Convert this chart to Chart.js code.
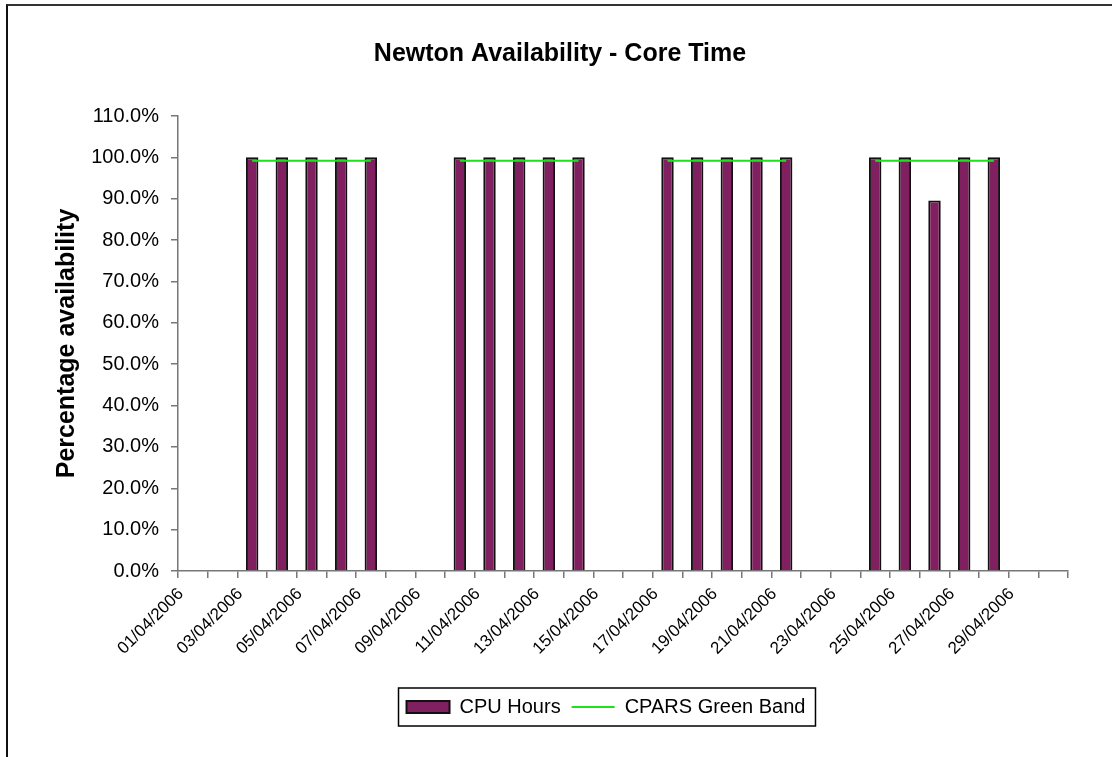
<!DOCTYPE html>
<html>
<head>
<meta charset="utf-8">
<title>Newton Availability - Core Time</title>
<script src="https://cdn.jsdelivr.net/npm/chart.js@4/dist/chart.umd.min.js"></script>
<style>
    body { margin: 0; background: #fff; overflow: hidden; }
    #frame { position: absolute; left: 6px; top: 4px; width: 1200px; height: 900px;
             border-top: 2px solid #333; border-left: 2px solid #111; }
    #availChart { position: absolute; left: 0; top: 0; }
</style>
</head>
<body>
<div id="frame"></div>
<canvas id="availChart" width="1112" height="757"></canvas>
<script>
// Days of April 2006 (categories)
const days = [
    "01/04/2006", "02/04/2006", "03/04/2006", "04/04/2006", "05/04/2006",
    "06/04/2006", "07/04/2006", "08/04/2006", "09/04/2006", "10/04/2006",
    "11/04/2006", "12/04/2006", "13/04/2006", "14/04/2006", "15/04/2006",
    "16/04/2006", "17/04/2006", "18/04/2006", "19/04/2006", "20/04/2006",
    "21/04/2006", "22/04/2006", "23/04/2006", "24/04/2006", "25/04/2006",
    "26/04/2006", "27/04/2006", "28/04/2006", "29/04/2006", "30/04/2006"
];
// CPU Hours availability (%), weekdays only
const cpuHours = [
    null, null, 100, 100, 100, 100, 100, null, null, 100,
    100, 100, 100, 100, null, null, 100, 100, 100, 100,
    100, null, null, 100, 100, 89.6, 100, 100, null, null
];
// CPARS Green Band (%)
const greenBand = [
    null, null, 99.2, 99.2, 99.2, 99.2, 99.2, null, null, 99.2,
    99.2, 99.2, 99.2, 99.2, null, null, 99.2, 99.2, 99.2, 99.2,
    99.2, null, null, 99.2, 99.2, 99.2, 99.2, 99.2, null, null
];
const yTicks = { min: 0, max: 110, step: 10 };

const font = "'Liberation Sans', Arial, sans-serif";

// nudges the legend right and draws the box round it
const legendFrame = {
    id: "legendFrame",
    afterLayout(chart) {
        chart.legend.left += 46;
        chart.legend.right += 46;
    },
    afterDraw(chart) {
        const boxes = chart.legend.legendHitBoxes;
        if (!boxes || !boxes.length) return;
        let left = Infinity, right = -Infinity;
        boxes.forEach(b => {
            left = Math.min(left, b.left);
            right = Math.max(right, b.left + b.width);
        });
        const cy = boxes[0].top + boxes[0].height / 2;
        const ctx = chart.ctx;
        ctx.save();
        ctx.strokeStyle = "#000";
        ctx.lineWidth = 1.5;
        ctx.strokeRect(left - 8, cy - 19, right - left + 18, 38);
        ctx.restore();
    }
};

function createChart() {
    const ctx = document.getElementById("availChart").getContext("2d");
    new Chart(ctx, {
        data: {
            labels: days,
            datasets: [
                {
                    type: "bar",
                    label: "CPU Hours",
                    data: cpuHours,
                    backgroundColor: "#812060",
                    borderColor: "#111",
                    borderWidth: 2,
                    barPercentage: 0.42,
                    categoryPercentage: 1,
                    order: 2
                },
                {
                    type: "line",
                    label: "CPARS Green Band",
                    data: greenBand,
                    borderColor: "#1fe01f",
                    backgroundColor: "#1fe01f",
                    borderWidth: 2,
                    pointRadius: 0,
                    spanGaps: false,
                    order: 1
                }
            ]
        },
        options: {
            responsive: false,
            animation: false,
            devicePixelRatio: 1,
            layout: { padding: { left: 52, right: 44, top: 0, bottom: 30 } },
            plugins: {
                tooltip: { enabled: false },
                title: {
                    display: true,
                    text: "Newton Availability - Core Time",
                    color: "#000",
                    font: { family: font, size: 25, weight: "bold" },
                    padding: { top: 39, bottom: 47 }
                },
                legend: {
                    position: "bottom",
                    labels: {
                        color: "#000",
                        font: { family: font, size: 20 },
                        usePointStyle: true,
                        pointStyleWidth: 43,
                        boxHeight: 12,
                        padding: 11,
                        sort: (a, b) => a.datasetIndex - b.datasetIndex,
                        generateLabels(chart) {
                            const items = Chart.defaults.plugins.legend.labels.generateLabels(chart);
                            items.forEach(it => {
                                it.pointStyle = it.datasetIndex === 0 ? "rect" : "line";
                            });
                            return items;
                        }
                    }
                }
            },
            scales: {
                x: {
                    grid: { drawOnChartArea: false, offset: true, tickLength: 7, color: "#777", lineWidth: 1.5 },
                    border: { color: "#777", width: 1.5 },
                    ticks: {
                        autoSkip: false,
                        minRotation: 45,
                        maxRotation: 45,
                        labelOffset: -12,
                        padding: 6,
                        color: "#000",
                        font: { family: font, size: 17 },
                        callback: (v, i) => (i % 2 === 0 ? days[i] : "")
                    },
                    afterFit: s => { s.height = 115; }
                },
                y: {
                    min: yTicks.min,
                    max: yTicks.max,
                    grid: { drawOnChartArea: false, tickLength: 7, color: "#777", lineWidth: 1.5 },
                    border: { color: "#777", width: 1.5 },
                    ticks: {
                        stepSize: yTicks.step,
                        padding: 12,
                        color: "#000",
                        font: { family: font, size: 20 },
                        callback: v => v.toFixed(1) + "%"
                    },
                    title: {
                        display: true,
                        text: "Percentage availability",
                        color: "#000",
                        font: { family: font, size: 25, weight: "bold" },
                        padding: { top: 0, bottom: 0 }
                    },
                    afterFit: s => { s.width = 126; }
                }
            }
        },
        plugins: [legendFrame]
    });
}

createChart();
</script>
</body>
</html>
